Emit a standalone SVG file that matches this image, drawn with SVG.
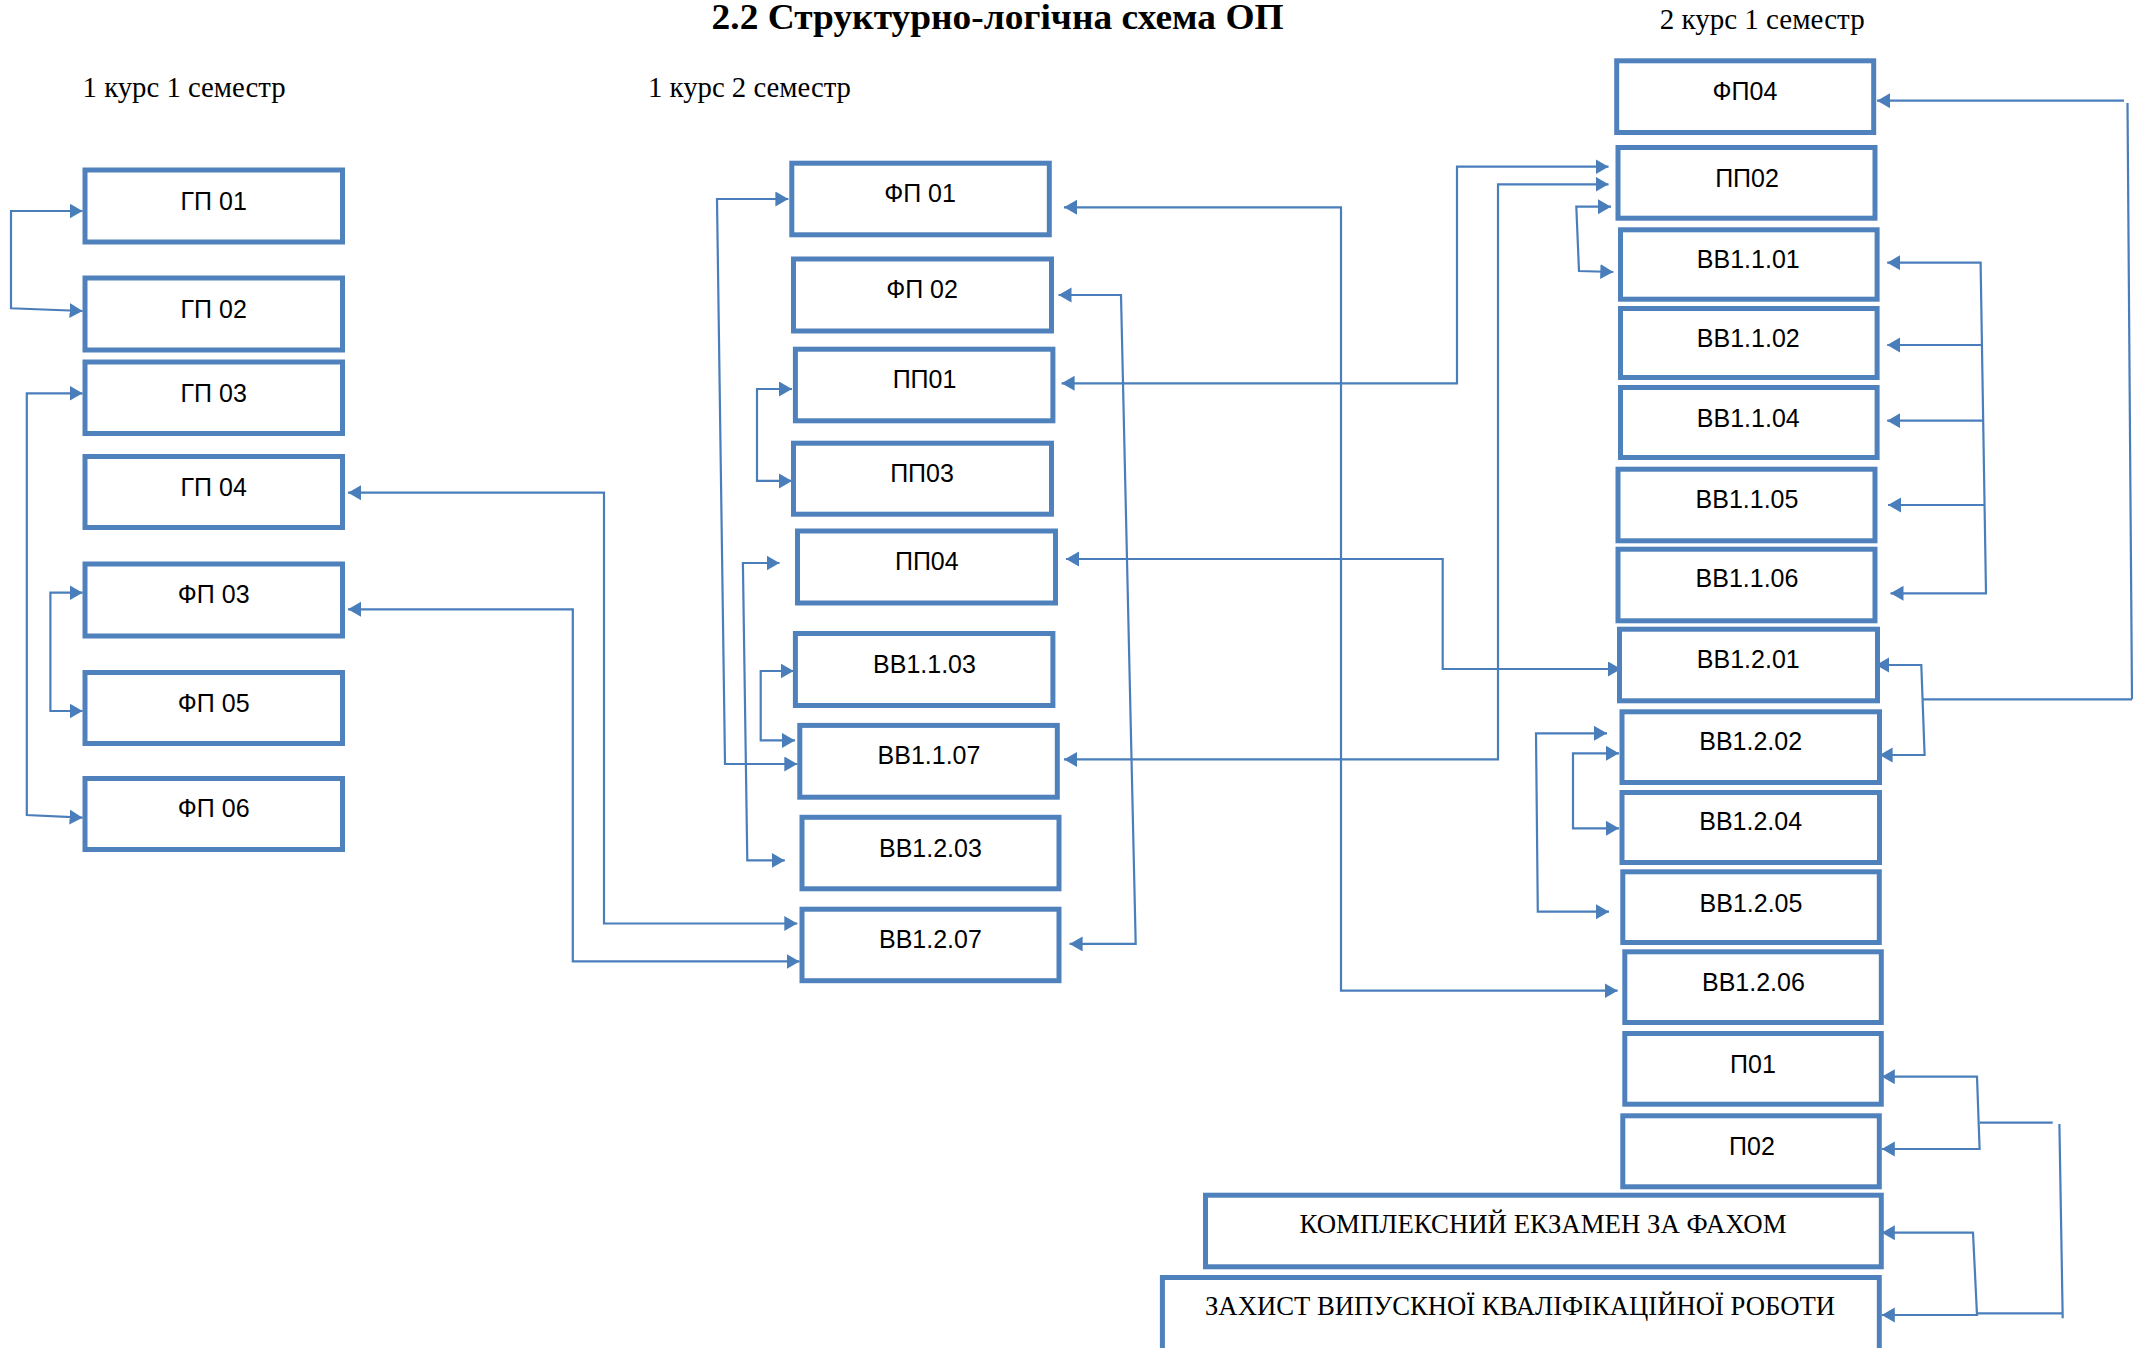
<svg xmlns="http://www.w3.org/2000/svg" width="2143" height="1348" viewBox="0 0 2143 1348">
<style>
.box{fill:#fff;stroke:#4F81BD;stroke-width:5}
.lbl{font-family:"Liberation Sans",Arial,sans-serif;font-size:25px;fill:#000;text-anchor:middle}
.ser{font-family:"Liberation Serif","Times New Roman",serif;fill:#000}
.c{fill:none;stroke:#4A7EBB;stroke-width:2.2}
.a{marker-end:url(#ah)}
.b{marker-start:url(#ah);marker-end:url(#ah)}
</style>
<defs>
<marker id="ah" markerUnits="userSpaceOnUse" markerWidth="14" markerHeight="16" refX="13" refY="7.5" orient="auto-start-reverse">
<path d="M0,0 L13,7.5 L0,15 z" fill="#4A7EBB"/>
</marker>
</defs>
<rect width="2143" height="1348" fill="#fff"/>
<text class="ser" x="711.6" y="29.3" font-size="36" font-weight="bold" textLength="572" lengthAdjust="spacingAndGlyphs">2.2 Структурно-логічна схема ОП</text>
<text class="ser" x="82.6" y="97" font-size="29" textLength="203" lengthAdjust="spacingAndGlyphs">1 курс 1 семестр</text>
<text class="ser" x="648" y="97" font-size="29" textLength="203" lengthAdjust="spacingAndGlyphs">1 курс 2 семестр</text>
<text class="ser" x="1659.7" y="29.3" font-size="29" textLength="205" lengthAdjust="spacingAndGlyphs">2 курс 1 семестр</text>

<g id="connectors">
<path class="c b" d="M82.6,211 L11,211 L11,308.3 L82.6,311"/>
<path class="c b" d="M82.6,393.3 L26.8,393.3 L26.8,815 L82.6,817.7"/>
<path class="c b" d="M82.6,592.7 L50.4,592.7 L50.4,711 L82.6,711"/>
<path class="c b" d="M348,492.7 L604,492.7 L604,923.5 L797.3,923.5"/>
<path class="c b" d="M348,609.3 L572.8,609.3 L572.8,961.4 L799.6,961.4"/>
<path class="c b" d="M788.4,199 L717,199 L725,764 L797.3,764"/>
<path class="c b" d="M792,389 L757,389 L757,480.9 L792,480.9"/>
<path class="c b" d="M779.5,563 L742.9,563 L747.3,860.4 L784.8,860.4"/>
<path class="c b" d="M793.7,671 L760.7,671 L760.7,740.4 L795,740.4"/>
<path class="c b" d="M1064,207.3 L1341,207.3 L1341,990.7 L1617.6,990.7"/>
<path class="c b" d="M1058.5,295 L1121,295 L1135.7,943.9 L1069.6,943.9"/>
<path class="c b" d="M1061.6,383.3 L1457,383.3 L1457,166.7 L1608.5,166.7"/>
<path class="c b" d="M1066,559 L1442.7,559 L1442.7,669 L1621,669"/>
<path class="c b" d="M1064,759.4 L1498,759.4 L1498,184.3 L1608.5,184.3"/>
<path class="c b" d="M1611,206.7 L1576.3,206.7 L1579,271 L1613.3,272"/>
<path class="c b" d="M1887.2,262.7 L1980.6,262.7 L1986,593.3 L1890.5,593.3"/>
<path class="c a" d="M1981.9,345 L1887.2,345"/>
<path class="c a" d="M1983.2,420.7 L1887.2,420.7"/>
<path class="c a" d="M1984.6,505 L1888,505"/>
<path class="c" d="M2132,699.3 L1922.5,699.3"/>
<path class="c a" d="M2124,100.7 L1877,100.7"/>
<path class="c" d="M2127.5,103 L2132,699.3"/>
<path class="c b" d="M1876,665 L1921.3,665 L1924.6,755 L1879.6,755"/>
<path class="c b" d="M1607,733.3 L1536,733.3 L1537.8,911.7 L1609,911.7"/>
<path class="c b" d="M1619,753.3 L1573,753.3 L1573,828.3 L1619,828.3"/>
<path class="c b" d="M1881.8,1076.7 L1977,1076.7 L1979.6,1149 L1881.8,1149"/>
<path class="c" d="M1979.6,1122.7 L2052.7,1122.7"/>
<path class="c" d="M2059.4,1124 L2062.7,1318.3"/>
<path class="c b" d="M1881.8,1232.7 L1973,1232.7 L1977,1315 L1881.8,1315"/>
<path class="c" d="M1977,1313.3 L2062,1313.3"/>
</g>

<g id="gp01"><rect class="box" x="85" y="170" width="257.5" height="72"/><text class="lbl" x="213.7" y="210">ГП 01</text></g>
<g id="gp02"><rect class="box" x="85" y="278" width="257.5" height="72"/><text class="lbl" x="213.7" y="318.3">ГП 02</text></g>
<g id="gp03"><rect class="box" x="85" y="362" width="257.5" height="71.5"/><text class="lbl" x="213.7" y="401.7">ГП 03</text></g>
<g id="gp04"><rect class="box" x="85" y="456.5" width="257.5" height="71"/><text class="lbl" x="213.7" y="495.7">ГП 04</text></g>
<g id="fp03"><rect class="box" x="85" y="564" width="257.5" height="72"/><text class="lbl" x="213.7" y="603.3">ФП 03</text></g>
<g id="fp05"><rect class="box" x="85" y="672.5" width="257.5" height="71"/><text class="lbl" x="213.7" y="711.7">ФП 05</text></g>
<g id="fp06"><rect class="box" x="85" y="778.5" width="257.5" height="71"/><text class="lbl" x="213.7" y="816.7">ФП 06</text></g>

<g id="fp01"><rect class="box" x="791.8" y="163.2" width="257.5" height="71.6"/><text class="lbl" x="920" y="202.3">ФП 01</text></g>
<g id="fp02"><rect class="box" x="793.5" y="259" width="258" height="72"/><text class="lbl" x="922" y="297.7">ФП 02</text></g>
<g id="pp01"><rect class="box" x="795.4" y="349.2" width="257.5" height="71.6"/><text class="lbl" x="924.5" y="388.3">ПП01</text></g>
<g id="pp03"><rect class="box" x="793.5" y="443.2" width="258" height="71"/><text class="lbl" x="922" y="482.3">ПП03</text></g>
<g id="pp04"><rect class="box" x="797.5" y="531" width="258" height="72"/><text class="lbl" x="926.8" y="570.3">ПП04</text></g>
<g id="vv1103"><rect class="box" x="795.4" y="633.5" width="257.5" height="72"/><text class="lbl" x="924.5" y="672.7">ВВ1.1.03</text></g>
<g id="vv1107"><rect class="box" x="799.8" y="725.4" width="257.5" height="71.8"/><text class="lbl" x="929" y="764">ВВ1.1.07</text></g>
<g id="vv1203"><rect class="box" x="802" y="817.3" width="257" height="71.5"/><text class="lbl" x="930.4" y="856.9">ВВ1.2.03</text></g>
<g id="vv1207"><rect class="box" x="802" y="909.2" width="257" height="71.5"/><text class="lbl" x="930.4" y="948">ВВ1.2.07</text></g>

<g id="fp04"><rect class="box" x="1616.7" y="60.8" width="257" height="71.7"/><text class="lbl" x="1745" y="100">ФП04</text></g>
<g id="pp02"><rect class="box" x="1618" y="147.5" width="257" height="70.7"/><text class="lbl" x="1747" y="186.7">ПП02</text></g>
<g id="vv1101"><rect class="box" x="1620.5" y="229.8" width="256.6" height="69.4"/><text class="lbl" x="1748.3" y="268.3">ВВ1.1.01</text></g>
<g id="vv1102"><rect class="box" x="1620.5" y="308.5" width="256.6" height="69"/><text class="lbl" x="1748.3" y="346.7">ВВ1.1.02</text></g>
<g id="vv1104"><rect class="box" x="1620.5" y="387.5" width="256.6" height="70"/><text class="lbl" x="1748.3" y="426.7">ВВ1.1.04</text></g>
<g id="vv1105"><rect class="box" x="1618" y="469.2" width="257" height="71.6"/><text class="lbl" x="1747" y="508.3">ВВ1.1.05</text></g>
<g id="vv1106"><rect class="box" x="1618" y="549.2" width="257" height="71.6"/><text class="lbl" x="1747" y="587.3">ВВ1.1.06</text></g>
<g id="vv1201"><rect class="box" x="1619.5" y="629.2" width="258" height="71.6"/><text class="lbl" x="1748.3" y="668.3">ВВ1.2.01</text></g>
<g id="vv1202"><rect class="box" x="1622" y="711.8" width="257.5" height="70.7"/><text class="lbl" x="1750.7" y="750">ВВ1.2.02</text></g>
<g id="vv1204"><rect class="box" x="1622" y="792.5" width="257.5" height="70"/><text class="lbl" x="1750.7" y="830">ВВ1.2.04</text></g>
<g id="vv1205"><rect class="box" x="1622.8" y="871.8" width="256.5" height="70.7"/><text class="lbl" x="1751" y="911.7">ВВ1.2.05</text></g>
<g id="vv1206"><rect class="box" x="1624.8" y="951.8" width="256.5" height="70.7"/><text class="lbl" x="1753.4" y="990.7">ВВ1.2.06</text></g>
<g id="p01"><rect class="box" x="1624.8" y="1033.5" width="256.5" height="70.7"/><text class="lbl" x="1753" y="1073.3">П01</text></g>
<g id="p02"><rect class="box" x="1622.8" y="1115.8" width="256.5" height="71"/><text class="lbl" x="1752" y="1155">П02</text></g>
<g id="exam"><rect class="box" x="1205.5" y="1195.2" width="675.8" height="71.6"/><text class="ser" x="1543" y="1232.7" font-size="27" text-anchor="middle" textLength="487" lengthAdjust="spacingAndGlyphs">КОМПЛЕКСНИЙ ЕКЗАМЕН ЗА ФАХОМ</text></g>
<g id="thesis"><rect class="box" x="1162.4" y="1277.5" width="716.9" height="76"/><text class="ser" x="1520" y="1315" font-size="27" text-anchor="middle" textLength="630" lengthAdjust="spacingAndGlyphs">ЗАХИСТ ВИПУСКНОЇ КВАЛІФІКАЦІЙНОЇ РОБОТИ</text></g>
</svg>
